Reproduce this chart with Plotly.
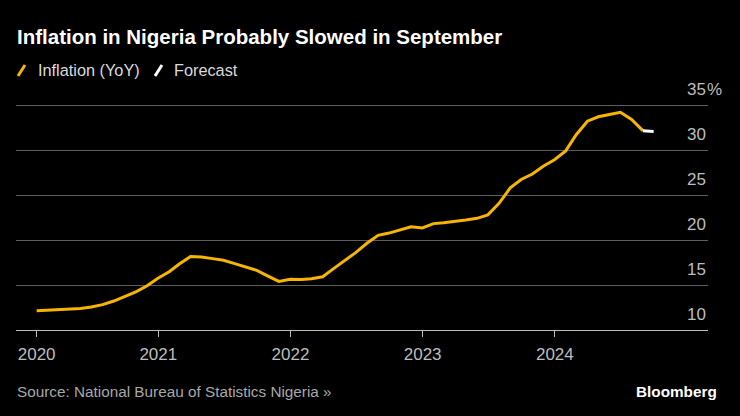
import pandas as pd
import plotly.graph_objects as go

# ---- data ----
inflation = [
    12.13, 12.20, 12.26, 12.34, 12.40, 12.56, 12.82, 13.22, 13.71, 14.23, 14.89, 15.75,
    16.47, 17.33, 18.17, 18.12, 17.93, 17.75, 17.38, 17.01, 16.63, 15.99, 15.40, 15.63,
    15.60, 15.70, 15.92, 16.82, 17.71, 18.60, 19.64, 20.52, 20.77, 21.09, 21.47, 21.34,
    21.82, 21.91, 22.04, 22.22, 22.41, 22.79, 24.08, 25.80, 26.72, 27.33, 28.20, 28.92,
    29.90, 31.70, 33.20, 33.69, 33.95, 34.19, 33.40, 32.15,
]
start_month = "2020-01-31"
forecast_dates = ["2024-08-31", "2024-09-30"]
forecast_vals = [32.15, 32.05]
tick_dates = ["2020-01-31", "2021-01-01", "2022-01-01", "2023-01-01", "2024-01-01"]
tick_text = ["2020", "2021", "2022", "2023", "2024"]
y_ticks = [10, 15, 20, 25, 30, 35]

dates = pd.date_range(start=start_month, periods=len(inflation), freq=pd.offsets.MonthEnd())

YELLOW = "#F7B500"
FONT = "Liberation Sans, Arial, sans-serif"
LABEL = "#BDBDBD"

fig = go.Figure()
fig.add_trace(go.Scatter(x=dates, y=inflation, mode="lines",
                         line=dict(color=YELLOW, width=3), hoverinfo="skip",
                         showlegend=False))
fig.add_trace(go.Scatter(x=forecast_dates, y=forecast_vals, mode="lines",
                         line=dict(color="#FFFFFF", width=3), hoverinfo="skip",
                         showlegend=False))

W, H = 740, 416
L, R, T, B = 16, 708, 100, 330
Y_MAX = 35 + 5 / 9


def px(x):
    return (x - L) / (R - L)


def py(y):
    return (B - y) / (B - T)


annotations = []
for v in y_ticks:
    annotations.append(dict(x=1, xref="paper", y=v, yref="y", text=str(v),
                            xanchor="right", yanchor="middle", yshift=16,
                            showarrow=False, font=dict(family=FONT, size=17, color=LABEL)))
annotations.append(dict(x=1, xref="paper", y=35, yref="y", text="%",
                        xanchor="left", yanchor="middle", yshift=16, xshift=-3,
                        showarrow=False, font=dict(family=FONT, size=17, color=LABEL)))

# title
annotations.append(dict(x=px(15), y=py(36), xref="paper", yref="paper",
                        text="<b>Inflation in Nigeria Probably Slowed in September</b>",
                        xanchor="left", yanchor="middle", showarrow=False,
                        font=dict(family=FONT, size=20.5, color="#FFFFFF")))
# legend texts
annotations.append(dict(x=px(36), y=py(70), xref="paper", yref="paper",
                        text="Inflation (YoY)", xanchor="left", yanchor="middle",
                        showarrow=False, font=dict(family=FONT, size=16.3, color="#DADADA")))
annotations.append(dict(x=px(172), y=py(70), xref="paper", yref="paper",
                        text="Forecast", xanchor="left", yanchor="middle",
                        showarrow=False, font=dict(family=FONT, size=16.3, color="#DADADA")))
# source & brand
annotations.append(dict(x=px(15), y=py(391), xref="paper", yref="paper",
                        text="Source: National Bureau of Statistics Nigeria »", xanchor="left",
                        yanchor="middle", showarrow=False,
                        font=dict(family=FONT, size=15.3, color="#A8A8A8")))
annotations.append(dict(x=px(719), y=py(391), xref="paper", yref="paper",
                        text="<b>Bloomberg</b>", xanchor="right", yanchor="middle",
                        showarrow=False, font=dict(family=FONT, size=15.3, color="#FFFFFF")))

shapes = [
    dict(type="line", xref="paper", yref="paper", x0=px(18), y0=py(76), x1=px(25), y1=py(65),
         line=dict(color=YELLOW, width=3)),
    dict(type="line", xref="paper", yref="paper", x0=px(155), y0=py(76), x1=px(162), y1=py(65),
         line=dict(color="#FFFFFF", width=3)),
]

fig.update_layout(
    width=W, height=H,
    paper_bgcolor="#000000", plot_bgcolor="#000000",
    margin=dict(l=L, r=W - R, t=T, b=H - B, pad=0),
    showlegend=False,
    annotations=annotations, shapes=shapes,
    xaxis=dict(type="date", range=["2019-12-05", "2025-02-27"],
               tickvals=tick_dates, ticktext=tick_text,
               ticks="outside", ticklen=6, tickcolor=LABEL, tickwidth=1,
               ticklabelstandoff=3,
               showline=True, linecolor=LABEL, linewidth=1,
               showgrid=False, zeroline=False,
               tickfont=dict(family=FONT, size=17, color=LABEL)),
    yaxis=dict(range=[10, Y_MAX], tickvals=y_ticks, showticklabels=False,
               showgrid=True, gridcolor="#5E5E5E", gridwidth=1,
               zeroline=False, showline=False, fixedrange=True),
    font=dict(family=FONT),
)

fig.write_html("out.html", config={"displayModeBar": False},
               post_script="document.body.style.margin='0';document.body.style.background='#000';")
